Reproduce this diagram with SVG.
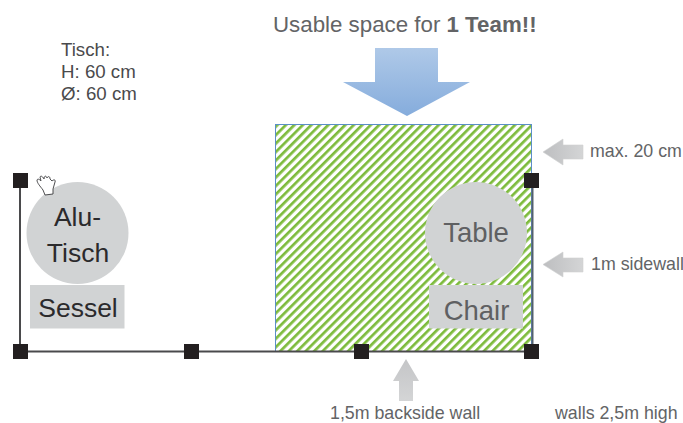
<svg xmlns="http://www.w3.org/2000/svg" width="683" height="423" viewBox="0 0 683 423">
<style>
text{font-family:"Liberation Sans",Arial,sans-serif;fill:#636466}
.lab{font-size:17.800px}
.note{font-size:18.700px;fill:#4a4a4c}
.dark{fill:#2b2a2c;font-size:26.500px;text-anchor:middle}
.big{font-size:27.500px;text-anchor:middle;fill:#5f6062}
.shape{fill:#d1d3d4}
.wall{stroke:#4a4a4c;stroke-width:2;fill:none}
.h{fill:#231f20}
.ga{fill:url(#gh);stroke:#d0d1d2;stroke-width:.6}
</style>
<defs>
<pattern id="st" width="6" height="6" patternUnits="userSpaceOnUse" patternTransform="rotate(45 275 124)">
<rect width="6" height="6" fill="#fff"/><rect width="2.700" height="6" fill="#7dbb3c"/>
</pattern>
<linearGradient id="bl" x1="0" y1="0" x2="0" y2="1"><stop offset="0" stop-color="#afc9e8"/><stop offset="1" stop-color="#85acdc"/></linearGradient>
<linearGradient id="gh" x1="0" y1="0" x2="1" y2="0"><stop offset="0" stop-color="#bdbec0"/><stop offset="1" stop-color="#d4d5d6"/></linearGradient>
<linearGradient id="gv" x1="0" y1="0" x2="0" y2="1"><stop offset="0" stop-color="#c4c5c7"/><stop offset="1" stop-color="#d4d5d6"/></linearGradient>
</defs>

<g id="space"><rect x="275.500" y="124.500" width="256" height="227" fill="url(#st)" stroke="#5b8fc7" stroke-width="1"/></g>

<g id="connectors">
<path class="wall" d="M20 180V351.500H531"/>
<path d="M532.500 180V351" stroke="#55606e" stroke-width="2" fill="none"/>
</g>

<g id="handles">
<rect class="h" x="13" y="173" width="15" height="15"/>
<rect class="h" x="13" y="344" width="15" height="15"/>
<rect class="h" x="184" y="344" width="15" height="15"/>
<rect class="h" x="354" y="344" width="15" height="15"/>
<rect class="h" x="524" y="344" width="15" height="15"/>
<rect class="h" x="524" y="173" width="15" height="15"/>
</g>

<g id="alu-tisch"><circle class="shape" cx="77.500" cy="233" r="51"/>
<text class="dark" x="77.500" y="226">Alu-</text><text class="dark" x="78" y="262">Tisch</text></g>
<g id="sessel"><rect class="shape" x="30" y="285" width="94.500" height="43.500"/><text class="dark" x="78" y="317">Sessel</text></g>
<g id="hand"><path d="M43 190C40 186 37 183 37 180C38 178 40 180 41 181L40 177C41 175 43 177 44 179C44 176 46 175 47 178C48 176 50 176 50 179L52 181C54 179 56 180 55 182L53 189L53 194L45 195Z" fill="#fff" stroke="#3a3a3c" stroke-width=".9"/></g>

<g id="table"><circle class="shape" cx="476" cy="233" r="51"/><text class="big" x="476" y="242">Table</text></g>
<g id="chair"><rect class="shape" x="429" y="285" width="94" height="43.500"/><text class="big" x="476.500" y="320">Chair</text></g>

<g id="title-arrow"><path d="M375 48H438V82H470L407 116L343 82H375Z" fill="url(#bl)"/>
<text x="273" y="32" font-size="22.300px"><tspan>Usable space for </tspan><tspan font-weight="bold">1 Team!!</tspan></text></g>

<g id="note"><text class="note" x="61" y="56">Tisch:</text><text class="note" x="61" y="78">H: 60 cm</text><text class="note" x="61" y="100">Ø: 60 cm</text></g>

<g id="max20"><path class="ga" d="M543 152L563 139V145H583V159H563V165Z"/><text class="lab" x="590" y="157">max. 20 cm</text></g>
<g id="sidewall"><path class="ga" d="M543 264.500L563 252V258H583V272H563V277Z"/><text class="lab" x="591" y="270">1m sidewall</text></g>
<g id="backwall"><path d="M406 359L419 381H413V401H399V381H393Z" fill="url(#gv)"/><text class="lab" x="330" y="418.500">1,5m backside wall</text></g>
<g id="walls"><text class="lab" x="555" y="418.500">walls 2,5m high</text></g>
</svg>
